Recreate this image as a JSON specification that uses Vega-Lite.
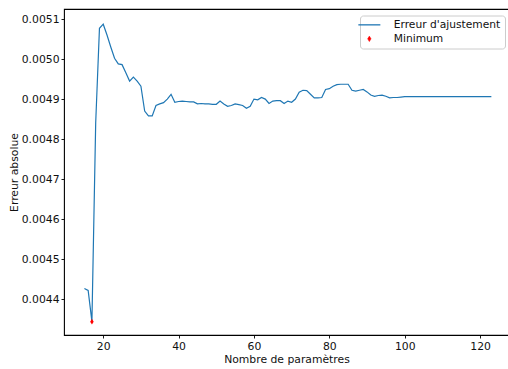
{
  "$schema": "https://vega.github.io/schema/vega-lite/v6.json",
  "width": 445,
  "height": 326,
  "autosize": {"type": "none"},
  "padding": {"left": 64, "top": 9, "right": 0, "bottom": 34},
  "background": "white",
  "config": {
    "font": "DejaVu Sans",
    "view": {"stroke": "black", "strokeWidth": 1.1},
    "axis": {
      "grid": false,
      "domain": false,
      "tickColor": "black",
      "tickSize": 3,
      "tickWidth": 0.9,
      "labelFont": "DejaVu Sans",
      "labelFontSize": 10.8,
      "labelColor": "#111111",
      "titleFont": "DejaVu Sans",
      "titleFontSize": 10.8,
      "titleFontWeight": "normal",
      "titleColor": "#111111"
    },
    "legend": {
      "orient": "none",
      "legendX": 296,
      "legendY": 6.5,
      "padding": 4,
      "fillColor": "rgba(255,255,255,0.8)",
      "strokeColor": "#cccccc",
      "cornerRadius": 3,
      "labelFont": "DejaVu Sans",
      "labelFontSize": 10.7,
      "labelColor": "#111111",
      "labelOffset": 19,
      "rowPadding": 2,
      "symbolSize": 484
    }
  },
  "datasets": {
    "courbe": [
      {"n": 15, "erreur": 0.004427}, {"n": 16, "erreur": 0.004422}, {"n": 17, "erreur": 0.004344},
      {"n": 18, "erreur": 0.004840}, {"n": 19, "erreur": 0.005077}, {"n": 20, "erreur": 0.005087},
      {"n": 21, "erreur": 0.005060}, {"n": 22, "erreur": 0.005030}, {"n": 23, "erreur": 0.005002},
      {"n": 24, "erreur": 0.004988}, {"n": 25, "erreur": 0.004986}, {"n": 26, "erreur": 0.004966},
      {"n": 27, "erreur": 0.004945}, {"n": 28, "erreur": 0.004955}, {"n": 29, "erreur": 0.004945},
      {"n": 30, "erreur": 0.004932}, {"n": 31, "erreur": 0.004870}, {"n": 32, "erreur": 0.004858},
      {"n": 33, "erreur": 0.004858}, {"n": 34, "erreur": 0.004884}, {"n": 35, "erreur": 0.004888},
      {"n": 36, "erreur": 0.004891}, {"n": 37, "erreur": 0.004900}, {"n": 38, "erreur": 0.004912},
      {"n": 39, "erreur": 0.004892}, {"n": 40, "erreur": 0.004894}, {"n": 41, "erreur": 0.004895},
      {"n": 42, "erreur": 0.004894}, {"n": 43, "erreur": 0.004893}, {"n": 44, "erreur": 0.004893},
      {"n": 45, "erreur": 0.004888}, {"n": 46, "erreur": 0.004889}, {"n": 47, "erreur": 0.004888},
      {"n": 48, "erreur": 0.004888}, {"n": 49, "erreur": 0.004887}, {"n": 50, "erreur": 0.004887},
      {"n": 51, "erreur": 0.004895}, {"n": 52, "erreur": 0.004888}, {"n": 53, "erreur": 0.004882},
      {"n": 54, "erreur": 0.004884}, {"n": 55, "erreur": 0.004888}, {"n": 56, "erreur": 0.004886},
      {"n": 57, "erreur": 0.004884}, {"n": 58, "erreur": 0.004877}, {"n": 59, "erreur": 0.004882},
      {"n": 60, "erreur": 0.004900}, {"n": 61, "erreur": 0.004898}, {"n": 62, "erreur": 0.004904},
      {"n": 63, "erreur": 0.004900}, {"n": 64, "erreur": 0.004889}, {"n": 65, "erreur": 0.004895},
      {"n": 66, "erreur": 0.004896}, {"n": 67, "erreur": 0.004896}, {"n": 68, "erreur": 0.004889},
      {"n": 69, "erreur": 0.004895}, {"n": 70, "erreur": 0.004892}, {"n": 71, "erreur": 0.004900},
      {"n": 72, "erreur": 0.004917}, {"n": 73, "erreur": 0.004922}, {"n": 74, "erreur": 0.004921},
      {"n": 75, "erreur": 0.004912}, {"n": 76, "erreur": 0.004903}, {"n": 77, "erreur": 0.004903},
      {"n": 78, "erreur": 0.004904}, {"n": 79, "erreur": 0.004924}, {"n": 80, "erreur": 0.004926},
      {"n": 81, "erreur": 0.004932}, {"n": 82, "erreur": 0.004936}, {"n": 83, "erreur": 0.004937},
      {"n": 84, "erreur": 0.004937}, {"n": 85, "erreur": 0.004937}, {"n": 86, "erreur": 0.004922},
      {"n": 87, "erreur": 0.004920}, {"n": 88, "erreur": 0.004922}, {"n": 89, "erreur": 0.004924},
      {"n": 90, "erreur": 0.004918}, {"n": 91, "erreur": 0.004910}, {"n": 92, "erreur": 0.004907},
      {"n": 93, "erreur": 0.004909}, {"n": 94, "erreur": 0.004910}, {"n": 95, "erreur": 0.004907},
      {"n": 96, "erreur": 0.004903}, {"n": 97, "erreur": 0.004904}, {"n": 98, "erreur": 0.004904},
      {"n": 99, "erreur": 0.004905}, {"n": 100, "erreur": 0.004906}, {"n": 101, "erreur": 0.004906},
      {"n": 102, "erreur": 0.004906}, {"n": 103, "erreur": 0.004906}, {"n": 104, "erreur": 0.004906},
      {"n": 105, "erreur": 0.004906}, {"n": 106, "erreur": 0.004906}, {"n": 107, "erreur": 0.004906},
      {"n": 108, "erreur": 0.004906}, {"n": 109, "erreur": 0.004906}, {"n": 110, "erreur": 0.004906},
      {"n": 111, "erreur": 0.004906}, {"n": 112, "erreur": 0.004906}, {"n": 113, "erreur": 0.004906},
      {"n": 114, "erreur": 0.004906}, {"n": 115, "erreur": 0.004906}, {"n": 116, "erreur": 0.004906},
      {"n": 117, "erreur": 0.004906}, {"n": 118, "erreur": 0.004906}, {"n": 119, "erreur": 0.004906},
      {"n": 120, "erreur": 0.004906}, {"n": 121, "erreur": 0.004906}, {"n": 122, "erreur": 0.004906},
      {"n": 123, "erreur": 0.004906}
    ],
    "minimum": [
      {"n": 17, "erreur": 0.004344}
    ]
  },
  "encoding": {
    "x": {
      "field": "n",
      "type": "quantitative",
      "scale": {"domain": [9.59, 127.68], "nice": false, "zero": false},
      "axis": {"values": [20, 40, 60, 80, 100, 120], "title": "Nombre de paramètres", "labelPadding": 2, "titlePadding": 3}
    },
    "y": {
      "field": "erreur",
      "type": "quantitative",
      "scale": {"domain": [0.0043107, 0.005125], "nice": false, "zero": false},
      "axis": {
        "values": [0.0044, 0.0045, 0.0046, 0.0047, 0.0048, 0.0049, 0.005, 0.0051],
        "format": ".4f",
        "title": "Erreur absolue",
        "labelPadding": 2,
        "titlePadding": 2
      }
    }
  },
  "layer": [
    {
      "data": {"name": "courbe"},
      "mark": {"type": "line", "strokeWidth": 1.2},
      "encoding": {
        "color": {
          "datum": "Erreur d'ajustement",
          "scale": {"domain": ["Erreur d'ajustement", "Minimum"], "range": ["#1f77b4", "#ff0000"]},
          "legend": {
            "title": null,
            "encode": {
              "symbols": {
                "update": {
                  "fill": {"scale": "color", "field": "value"},
                  "stroke": {"scale": "color", "field": "value"},
                  "strokeWidth": {"signal": "datum.value === 'Minimum' ? 0.5 : 1.3"},
                  "size": {"signal": "datum.value === 'Minimum' ? 30 : 484"}
                }
              }
            }
          }
        }
      }
    },
    {
      "data": {"name": "minimum"},
      "mark": {"type": "point", "filled": true, "opacity": 1, "size": 32},
      "encoding": {
        "color": {"datum": "Minimum"},
        "shape": {
          "datum": "Minimum",
          "scale": {"domain": ["Erreur d'ajustement", "Minimum"], "range": ["stroke", "M0,-1L0.62,0L0,1L-0.62,0Z"]},
          "legend": {"title": null}
        }
      }
    }
  ]
}
